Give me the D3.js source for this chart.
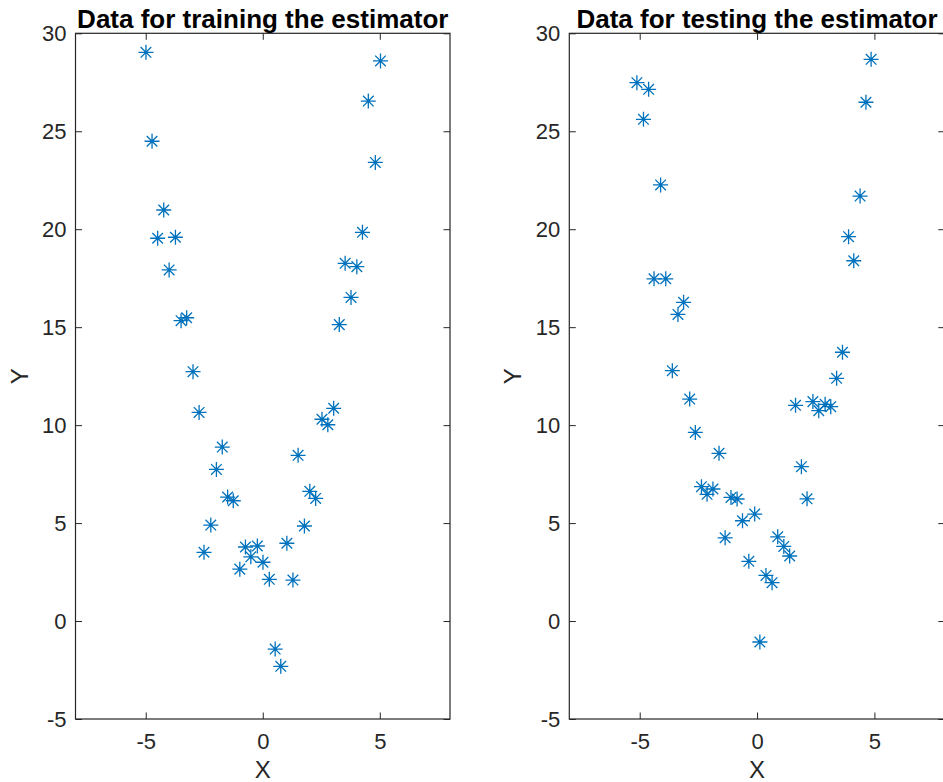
<!DOCTYPE html>
<html>
<head>
<meta charset="utf-8">
<script src="https://cdn.jsdelivr.net/npm/d3@7"></script>
<style>
  html, body { margin: 0; padding: 0; background: #fff; }
  svg { display: block; }
  text { font-family: "Liberation Sans", Arial, Helvetica, sans-serif; }
</style>
</head>
<body>
<svg id="chart" width="943" height="782"></svg>
<script>
// Training samples
const trainX = [-4.99, -4.73, -4.23, -4.49, -3.73, 5.03, 4.51, 4.81, 4.26,
  -4.00, -3.49, -3.25, -2.98, -2.72, -1.73, -1.98, -1.50, -1.26,
  3.52, 4.02, 3.77, 3.27, 3.03, 2.53, 2.78, 1.51, 2.01, 2.26,
  -2.22, -2.51, -0.74, -0.23, -0.51, 0.01, -0.98, 0.28, 1.29, 1.03, 1.78, 0.53, 0.77];
const trainY = [29.03, 24.49, 20.98, 19.54, 19.59, 28.59, 26.54, 23.41, 19.84,
  17.92, 15.33, 15.48, 12.73, 10.65, 8.88, 7.74, 6.33, 6.14,
  18.26, 18.09, 16.52, 15.13, 10.86, 10.30, 10.02, 8.46, 6.62, 6.26,
  4.90, 3.51, 3.78, 3.83, 3.28, 3.00, 2.65, 2.13, 2.09, 3.97, 4.85, -1.43, -2.31];

// Testing samples
const testX = [-5.12, -4.62, -4.84, -4.11, 4.86, 4.64, 4.39, 3.90,
  -4.39, -3.89, -3.13, -3.37, -3.61, -2.87, -2.63, -1.62, -2.37, -2.13, -1.88, -1.11, -0.85,
  4.12, 3.64, 3.39, 1.64, 2.38, 2.63, 2.90, 3.14, 1.89, 2.13,
  -0.10, -0.62, -1.36, -0.35, 0.88, 1.14, 1.39, 0.38, 0.64, 0.12];
const testY = [27.48, 27.14, 25.61, 22.26, 28.67, 26.48, 21.69, 19.62,
  17.47, 17.47, 16.27, 15.65, 12.78, 11.33, 9.63, 8.56, 6.86, 6.47, 6.74, 6.31, 6.23,
  18.39, 13.72, 12.39, 11.01, 11.20, 10.74, 11.06, 10.94, 7.88, 6.24,
  5.46, 5.12, 4.25, 3.05, 4.30, 3.81, 3.32, 2.33, 1.96, -1.07];

const xTicks = [-5, 0, 5];
const yTicks = [-5, 0, 5, 10, 15, 20, 25, 30];
const xDomain = [-8, 8];
const yDomain = [-5, 30];

const panels = [
  { title: "Data for training the estimator", xs: trainX, ys: trainY, left: 75.5, right: 450 },
  { title: "Data for testing the estimator",  xs: testX,  ys: testY,  left: 569.3, right: 944.8 }
];

const plotTop = 33.3, plotBottom = 719;
const axisColor = "#262626";
const markerColor = "#0072BD";
const tickLen = 6.5;
const mk = 7.5;
const plainNum = v => String(v);   // hyphen-minus, as in the tick labels

const svg = d3.select("#chart");

panels.forEach(p => {
  const x = d3.scaleLinear().domain(xDomain).range([p.left, p.right]);
  const y = d3.scaleLinear().domain(yDomain).range([plotBottom, plotTop]);
  const g = svg.append("g");

  // points as asterisk markers
  const pts = d3.range(p.xs.length).map(i => [p.xs[i], p.ys[i]]);
  const m = g.append("g").attr("stroke", markerColor).attr("stroke-width", 1.3).attr("fill", "none");
  const d = mk * Math.SQRT1_2;
  pts.forEach(([vx, vy]) => {
    const cx = x(vx), cy = y(vy);
    m.append("path").attr("d",
      `M${cx - mk},${cy}H${cx + mk}M${cx},${cy - mk}V${cy + mk}` +
      `M${cx - d},${cy - d}L${cx + d},${cy + d}M${cx - d},${cy + d}L${cx + d},${cy - d}`);
  });

  // axes: bottom & left with labels, top & right as inward ticks
  const axB = d3.axisBottom(x).tickValues(xTicks).tickSize(-tickLen).tickPadding(14).tickFormat(plainNum);
  const axT = d3.axisTop(x).tickValues(xTicks).tickSize(-tickLen).tickFormat("");
  const axL = d3.axisLeft(y).tickValues(yTicks).tickSize(-tickLen).tickPadding(9).tickFormat(plainNum);
  const axR = d3.axisRight(y).tickValues(yTicks).tickSize(-tickLen).tickFormat("");

  const style = sel => {
    sel.selectAll(".domain").remove();
    sel.selectAll("line").attr("stroke", axisColor).attr("stroke-width", 1);
    sel.selectAll("text").attr("fill", axisColor).attr("font-size", 22)
      .attr("font-family", "'Liberation Sans', Arial, sans-serif");
  };
  g.append("g").attr("transform", `translate(0,${plotBottom})`).call(axB).call(style);
  g.append("g").attr("transform", `translate(0,${plotTop})`).call(axT).call(style);
  g.append("g").attr("transform", `translate(${p.left},0)`).call(axL).call(style);
  g.append("g").attr("transform", `translate(${p.right},0)`).call(axR).call(style);

  g.append("rect")
    .attr("x", p.left).attr("y", plotTop)
    .attr("width", p.right - p.left).attr("height", plotBottom - plotTop)
    .attr("fill", "none").attr("stroke", axisColor).attr("stroke-width", 1.2);

  // title
  g.append("text")
    .attr("x", (p.left + p.right) / 2).attr("y", 27.5)
    .attr("text-anchor", "middle").attr("font-weight", "bold")
    .attr("font-size", 26).attr("fill", "#000")
    .text(p.title);

  // axis labels
  g.append("text")
    .attr("x", (p.left + p.right) / 2).attr("y", 778)
    .attr("text-anchor", "middle").attr("font-size", 24).attr("fill", axisColor)
    .text("X");
  g.append("text")
    .attr("transform", `translate(${p.left - 48},${(plotTop + plotBottom) / 2}) rotate(-90)`)
    .attr("text-anchor", "middle").attr("font-size", 24).attr("fill", axisColor)
    .text("Y");
});
</script>
</body>
</html>
